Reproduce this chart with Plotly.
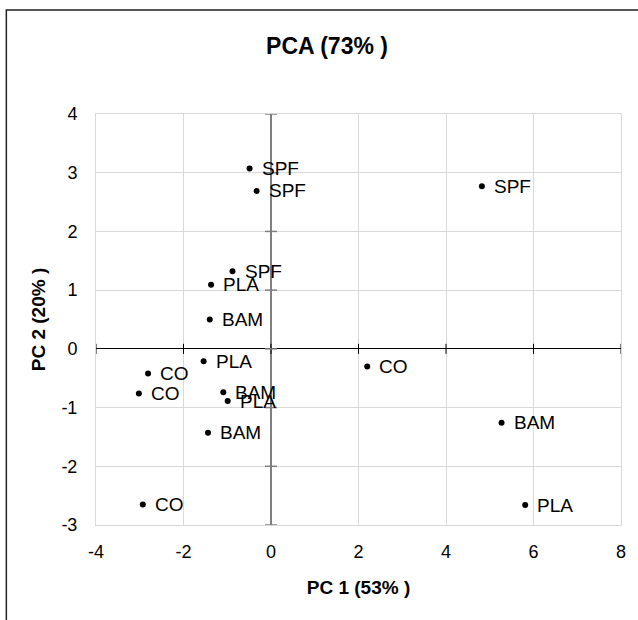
import plotly.graph_objects as go

# Data
labels = ["SPF", "SPF", "SPF", "PLA", "BAM", "PLA", "CO", "CO", "BAM", "PLA", "BAM", "CO", "CO", "SPF", "BAM", "PLA"]
pc1 = [-0.49, -0.33, -0.88, -1.37, -1.40, -1.54, -2.81, -3.02, -1.09, -0.99, -1.44, -2.93, 2.20, 4.82, 5.27, 5.81]
pc2 = [3.07, 2.69, 1.32, 1.09, 0.50, -0.21, -0.42, -0.76, -0.74, -0.89, -1.43, -2.65, -0.30, 2.77, -1.26, -2.66]

x_ticks = [-4, -2, 0, 2, 4, 6, 8]
y_ticks = [-3, -2, -1, 0, 1, 2, 3, 4]

title_text = "PCA (73% )"
x_title = "PC 1 (53% )"
y_title = "PC 2 (20% )"

FONT = "Liberation Sans, Arial, sans-serif"

fig = go.Figure()
fig.add_trace(go.Scatter(
    x=pc1, y=pc2, mode="markers",
    marker=dict(size=6, color="black"),
    hoverinfo="skip", showlegend=False,
))

annotations = []
for lx, ly, lt in zip(pc1, pc2, labels):
    annotations.append(dict(
        x=lx, y=ly, xref="x", yref="y", text=lt, showarrow=False,
        xanchor="left", yanchor="middle", xshift=10,
        font=dict(family=FONT, size=19, color="black"),
    ))

shapes = []
# outer chart frame
shapes.append(dict(type="rect", xref="paper", yref="paper",
                   x0=(6 - 96) / 527, x1=1.2, y0=-0.4, y1=1 + (114 - 10) / 411,
                   line=dict(color="#222222", width=1.5), fillcolor="rgba(0,0,0,0)", layer="below"))
# tick marks on the horizontal zero axis
for t in x_ticks:
    shapes.append(dict(type="line", xref="x", yref="y", x0=t, x1=t,
                       ysizemode="pixel", yanchor=0, y0=-5, y1=5,
                       line=dict(color="black", width=1)))
# tick marks on the vertical zero axis
for t in y_ticks:
    shapes.append(dict(type="line", xref="x", yref="y", y0=t, y1=t,
                       xsizemode="pixel", xanchor=0, x0=-6, x1=6,
                       line=dict(color="#7f7f7f", width=1.5)))

fig.update_layout(
    width=638, height=620,
    margin=dict(l=96, r=15, t=114, b=95),
    paper_bgcolor="white", plot_bgcolor="white",
    font=dict(family=FONT, size=18, color="black"),
    title=dict(text="<b>" + title_text + "</b>", x=327 / 638, xanchor="center",
               y=1 - 46 / 620, yanchor="middle",
               font=dict(family=FONT, size=23, color="black")),
    annotations=annotations,
    shapes=shapes,
    xaxis=dict(
        range=[-4, 8], tickvals=x_ticks, ticktext=[str(v) for v in x_ticks],
        showgrid=True, gridcolor="#d9d9d9", gridwidth=1,
        showline=True, mirror=True, linecolor="#d9d9d9", linewidth=1,
        zeroline=True, zerolinecolor="#7f7f7f", zerolinewidth=1.5,
        ticks="", ticklabelstandoff=10,
        tickfont=dict(family=FONT, size=18, color="black"),
        title=dict(text="<b>" + x_title + "</b>", standoff=20,
                   font=dict(family=FONT, size=19, color="black")),
    ),
    yaxis=dict(
        range=[-3, 4], tickvals=y_ticks, ticktext=[str(v) for v in y_ticks],
        showgrid=True, gridcolor="#d9d9d9", gridwidth=1,
        showline=True, mirror=True, linecolor="#d9d9d9", linewidth=1,
        zeroline=True, zerolinecolor="black", zerolinewidth=1,
        ticks="", ticklabelstandoff=14,
        tickfont=dict(family=FONT, size=18, color="black"),
        title=dict(text="<b>" + y_title + "</b>", standoff=10,
                   font=dict(family=FONT, size=19, color="black")),
    ),
)

fig.write_html("out.html")
